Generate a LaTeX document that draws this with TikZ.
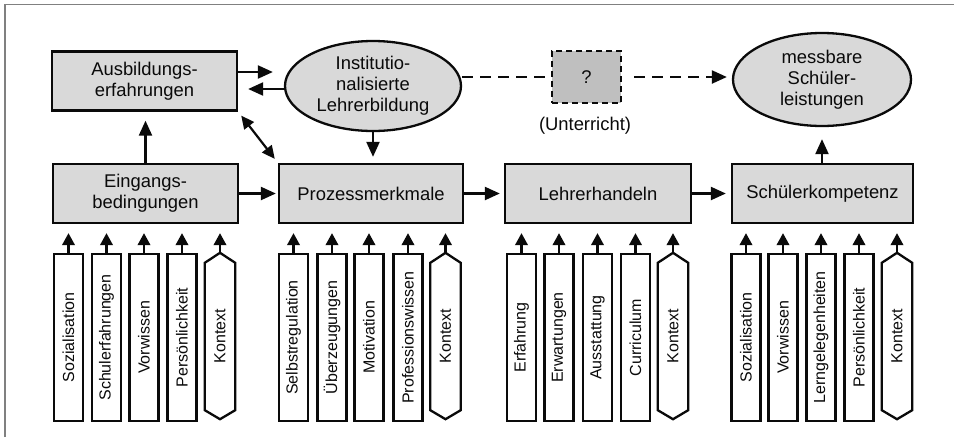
\documentclass[tikz,border=0pt]{standalone}
\usepackage{fontspec}
\setmainfont{Liberation Sans}
\usetikzlibrary{arrows.meta,shapes.geometric}
\definecolor{boxgray}{HTML}{D9D9D9}
\definecolor{qgray}{HTML}{BFBFBF}
\definecolor{framegray}{HTML}{808080}
\definecolor{ink}{HTML}{0A0A0A}
\begin{document}
\begin{tikzpicture}[x=1pt,y=-1pt,
  every node/.style={text=ink},
  mainbox/.style={draw=ink,line width=2.3pt,fill=boxgray,minimum width=185pt,minimum height=59pt,inner sep=0pt,align=center,font=\fontsize{18.4}{21}\selectfont},
  oval/.style={ellipse,draw=ink,line width=2.3pt,fill=boxgray,inner sep=0pt,align=center,font=\fontsize{18.4}{21}\selectfont},
  barbox/.style={draw=ink,line width=2.3pt,fill=white,minimum width=29pt,minimum height=167pt,inner sep=0pt,font=\fontsize{16}{19}\selectfont},
  hexbox/.style={minimum width=30pt,minimum height=166pt,inner sep=0pt,font=\fontsize{16}{19}\selectfont},
  arr/.style={draw=ink,line width=2.2pt,-{Triangle[length=15pt,width=13pt]}},
  darr/.style={draw=ink,line width=2.2pt,{Triangle[length=13pt,width=12pt]}-{Triangle[length=13pt,width=12pt]}},
  sarr/.style={draw=ink,line width=2.2pt,-{Triangle[length=12pt,width=12.5pt]}},
  dashline/.style={draw=ink,line width=2.2pt,dash pattern=on 11pt off 7pt}
]
\useasboundingbox (0,0) rectangle (954,437);
\draw[framegray,line width=1.5pt] (5,437) -- (5,4.5) -- (954,4.5);

% main nodes
\node[mainbox] (ausb) at (144.5,81) {Ausbildungs-\\erfahrungen};
\node[mainbox] (eing) at (145.5,193.5) {Eingangs-\\bedingungen};
\node[mainbox,minimum width=184pt] (proz) at (371,193.5) {Prozessmerkmale};
\node[mainbox,minimum width=186pt] (lehr) at (598,193.5) {Lehrerhandeln};
\node[mainbox,minimum width=181pt] (schk) at (822.5,193.5) {Schülerkompetenz};
\node[oval,minimum width=176pt,minimum height=90pt] (inst) at (373,86) {Institutio-\\nalisierte\\Lehrerbildung};
\node[oval,minimum width=178pt,minimum height=93pt] (mess) at (822,79.5) {messbare\\Schüler-\\leistungen};
\node[draw=ink,line width=2.3pt,dash pattern=on 6pt off 4pt,fill=qgray,minimum width=69pt,minimum height=52pt,font=\fontsize{18.4}{21}\selectfont] (q) at (586.5,77) {?};
\node[font=\fontsize{18.4}{21}\selectfont] (unt) at (585,126) {(Unterricht)};

% connectors
\draw[arr,shorten >=11pt] ([yshift=9pt]ausb.east) -- ([yshift=9pt]ausb.east -| inst.west);
\draw[arr,shorten >=10pt] ([yshift=-8pt]ausb.east -| inst.west) -- ([yshift=-8pt]ausb.east);
\draw[arr,shorten >=9pt] (eing.north) -- (eing.north |- ausb.south);
\draw[darr,shorten <=5pt,shorten >=5pt] (ausb.south east) -- (proz.north west);
\draw[arr,shorten >=6pt] (inst.south) -- (inst.south |- proz.north);
\draw[arr,shorten >=2pt] (eing.east) -- (proz.west);
\draw[arr,shorten >=4pt] (proz.east) -- (lehr.west);
\draw[arr,shorten >=5pt] (lehr.east) -- (schk.west);
\draw[arr,shorten >=12pt] (schk.north -| mess.south) -- (mess.south);
\draw[dashline] (q.west -| inst.east) -- (q.west);
\draw[dashline,-{Triangle[length=15pt,width=13pt]},shorten >=5pt,shorten <=12pt] (q.east) -- (q.east -| mess.west);

% bars
\foreach \x/\t/\n/\g in {68.5/Sozialisation/a1/eing,106.5/Schulerfahrungen/a2/eing,144/Vorwissen/a3/eing,182/Persönlichkeit/a4/eing,
  293.5/Selbstregulation/b1/proz,332/Überzeugungen/b2/proz,369/Motivation/b3/proz,408/Professionswissen/b4/proz,
  521.5/Erfahrung/c1/lehr,559/Erwartungen/c2/lehr,597.5/Ausstattung/c3/lehr,635.5/Curriculum/c4/lehr,
  746/Sozialisation/d1/schk,783/Vorwissen/d2/schk,821/Lerngelegenheiten/d3/schk,859/Persönlichkeit/d4/schk}{
  \node[barbox] (\n) at (\x,337.5) {\rotatebox{90}{\t}};
  \draw[sarr,shorten >=9pt] (\n.north) -- (\n.north |- \g.south);
}
\foreach \x/\n/\g in {220/a5/eing,445.5/b5/proz,673/c5/lehr,897/d5/schk}{
  \node[hexbox] (\n) at (\x,336) {\rotatebox{90}{Kontext}};
  \draw[draw=ink,line width=2.3pt,line join=miter] (\n.north) -- ([yshift=-10pt]\n.north east) -- ([yshift=9pt]\n.south east) -- (\n.south) -- ([yshift=9pt]\n.south west) -- ([yshift=-10pt]\n.north west) -- cycle;
  \draw[sarr,shorten >=9pt] (\n.north) -- (\n.north |- \g.south);
}
\end{tikzpicture}
\end{document}
